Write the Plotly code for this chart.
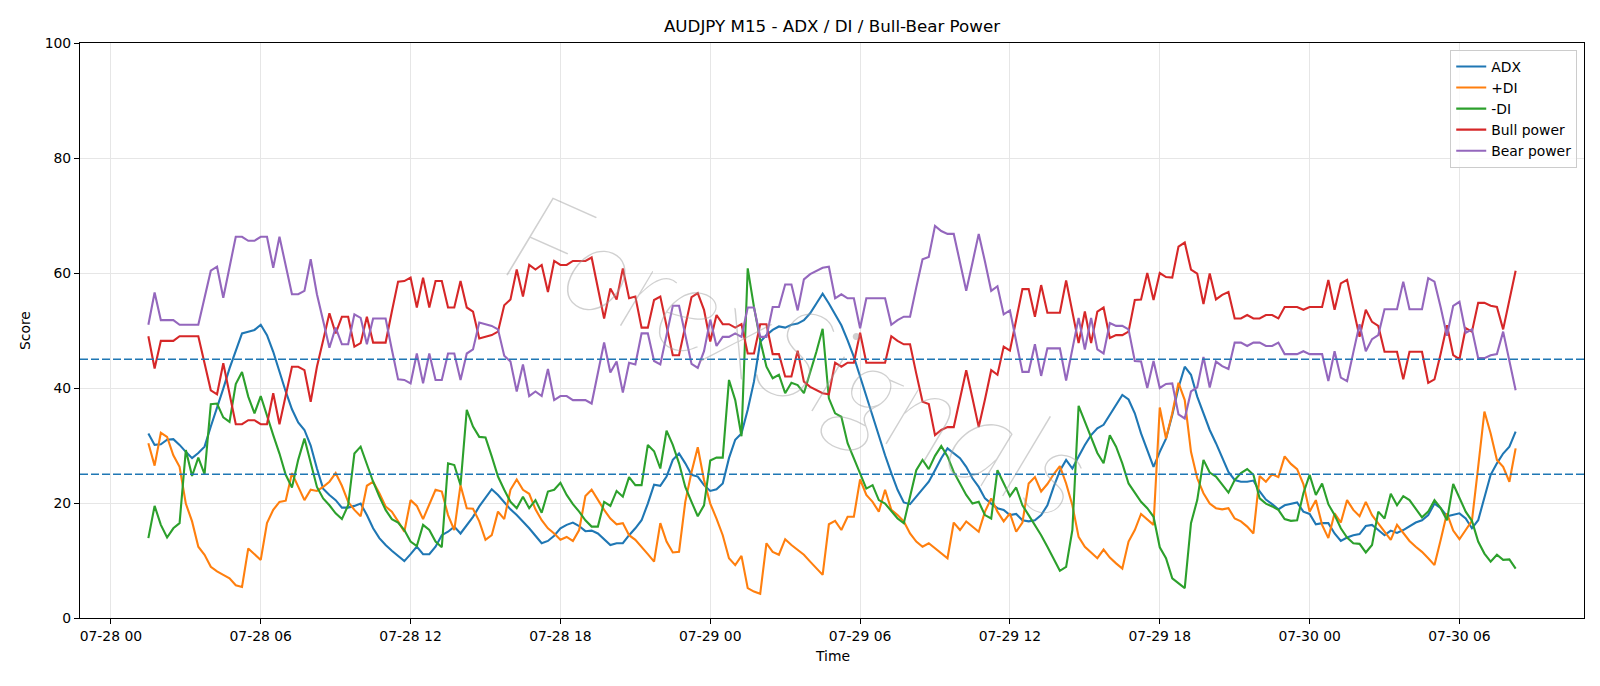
import pandas as pd
import plotly.graph_objects as go

# ---------------- data ----------------
start_time = "2025-07-28 01:30"
bar_minutes = 15

adx = [32.1, 30.1, 30.2, 31.0, 31.1, 30.1, 28.9, 27.8, 28.7, 29.8,
       33.3, 36.5, 39.9, 43.4, 46.6, 49.5, 49.8, 50.1, 51.0, 49.2,
       46.3, 42.8, 39.4, 36.3, 34.0, 32.7, 30.0, 26.0, 22.5, 21.4,
       20.5, 19.2, 19.2, 19.5, 19.9, 17.9, 15.6, 13.9, 12.7, 11.7,
       10.8, 9.9, 11.1, 12.4, 11.1, 11.1, 12.4, 14.4, 15.0, 15.9,
       14.7, 16.2, 17.6, 19.4, 20.8, 22.4, 21.4, 20.2, 18.9, 17.9,
       16.8, 15.6, 14.3, 13.0, 13.4, 14.3, 15.6, 16.2, 16.6, 16.0,
       15.1, 15.2, 14.7, 13.7, 12.7, 13.0, 13.0, 14.4, 15.6, 17.0,
       19.9, 23.2, 23.0, 24.6, 27.5, 28.6, 26.9, 24.9, 24.6, 23.1,
       22.1, 22.4, 23.4, 27.8, 31.0, 32.1, 36.2, 41.1, 48.0, 49.2,
       50.1, 50.7, 50.5, 51.0, 51.2, 51.8, 53.0, 54.7, 56.4, 54.7,
       52.7, 50.9, 48.3, 45.4, 42.0, 38.5, 35.0, 31.5, 28.3, 25.2,
       22.3, 20.1, 19.8, 21.1, 22.5, 23.7, 25.7, 27.8, 29.5, 28.6,
       27.8, 26.3, 24.3, 22.8, 20.8, 19.9, 19.1, 18.8, 17.9, 18.1,
       17.0, 16.8, 17.0, 17.9, 19.6, 22.8, 25.6, 27.5, 26.0, 28.1,
       30.1, 31.8, 33.0, 33.6, 35.3, 37.2, 38.8, 38.0, 35.6, 32.1,
       29.2, 26.3, 28.9, 31.2, 35.3, 40.1, 43.7, 42.3, 38.5, 35.6,
       32.7, 30.4, 27.8, 25.4, 24.0, 23.7, 23.7, 23.9, 22.0, 20.6,
       19.8, 18.9, 19.6, 19.9, 20.1, 18.5, 18.1, 16.3, 16.5, 16.5,
       14.7, 13.4, 14.0, 14.4, 14.6, 16.0, 16.2, 15.3, 14.4, 15.2,
       14.8, 15.3, 16.0, 16.6, 17.0, 17.9, 19.9, 19.1, 17.7, 17.9,
       18.2, 17.3, 15.6, 17.0, 21.1, 24.9, 26.9, 28.6, 29.8, 32.4]

plus_di = [30.4, 26.5, 32.2, 31.5, 28.3, 26.3, 19.9, 16.8, 12.4, 11.0,
           8.9, 8.1, 7.5, 6.9, 5.7, 5.4, 12.1, 11.1, 10.1, 16.5,
           18.8, 20.2, 20.4, 25.2, 22.8, 20.5, 22.3, 22.1, 22.8, 23.7,
           25.2, 23.0, 20.2, 18.8, 17.7, 23.0, 23.7, 21.7, 19.4, 18.5,
           16.8, 15.0, 20.5, 19.5, 17.2, 19.6, 22.3, 22.0, 17.9, 15.3,
           23.1, 19.1, 19.0, 16.8, 13.6, 14.4, 18.5, 17.2, 22.3, 24.1,
           22.3, 21.6, 18.9, 17.0, 15.6, 14.7, 13.6, 14.1, 13.4, 15.3,
           21.2, 22.3, 20.5, 18.8, 17.3, 16.3, 16.5, 14.4, 13.6, 12.4,
           11.1, 9.8, 16.5, 13.3, 11.4, 11.5, 20.2, 25.4, 29.7, 24.0,
           19.9, 17.3, 14.4, 10.4, 9.2, 10.8, 5.2, 4.6, 4.2, 13.0,
           11.5, 11.0, 13.7, 12.7, 11.8, 11.0, 9.8, 8.6, 7.5, 16.3,
           16.9, 15.3, 17.6, 17.6, 24.1, 21.4, 20.2, 18.5, 22.3, 18.8,
           17.9, 16.8, 14.7, 13.3, 12.4, 13.0, 12.1, 11.2, 10.4, 16.6,
           15.3, 16.8, 15.9, 15.0, 18.5, 20.8, 18.5, 16.8, 18.2, 15.0,
           16.6, 23.4, 24.5, 22.0, 23.3, 25.0, 26.4, 23.4, 19.6, 14.1,
           12.4, 11.4, 10.4, 11.9, 10.5, 9.5, 8.6, 13.3, 15.3, 18.1,
           17.2, 16.2, 36.6, 31.2, 35.6, 40.9, 37.9, 28.9, 24.3, 21.7,
           19.9, 19.1, 18.9, 19.1, 17.3, 16.8, 15.9, 14.7, 24.7, 23.7,
           25.0, 24.5, 28.1, 26.8, 25.9, 23.3, 18.5, 20.5, 16.2, 13.9,
           18.2, 16.6, 20.5, 18.8, 17.7, 20.2, 17.9, 16.5, 15.0, 13.6,
           16.2, 14.7, 13.4, 12.4, 11.5, 10.4, 9.2, 13.6, 18.2, 15.2,
           13.7, 15.3, 16.9, 26.3, 35.9, 32.1, 27.5, 26.3, 23.7, 29.5]

minus_di = [13.9, 19.5, 16.2, 14.0, 15.6, 16.5, 29.2, 24.7, 27.9, 25.0,
            37.2, 37.3, 34.9, 34.1, 40.7, 42.8, 38.5, 35.6, 38.6, 35.0,
            31.8, 28.6, 24.9, 22.7, 27.5, 31.2, 26.8, 22.8, 20.8, 19.6,
            18.2, 17.2, 19.6, 28.6, 29.8, 26.6, 23.7, 21.1, 18.8, 17.2,
            16.6, 15.3, 13.3, 12.5, 16.2, 15.3, 13.3, 12.3, 26.9, 26.6,
            23.1, 36.2, 33.3, 31.5, 31.4, 28.1, 24.6, 22.3, 20.2, 19.1,
            21.1, 19.1, 20.5, 18.3, 22.0, 22.3, 23.5, 21.4, 19.8, 18.5,
            17.0, 15.9, 15.9, 20.2, 19.5, 22.1, 21.1, 24.5, 23.1, 23.1,
            30.1, 29.0, 26.0, 32.6, 30.1, 26.9, 22.8, 20.2, 17.7, 19.6,
            27.4, 27.9, 27.9, 41.4, 37.9, 31.6, 60.8, 54.1, 48.3, 43.7,
            41.7, 42.3, 39.1, 40.9, 40.5, 39.1, 42.5, 46.3, 50.3, 38.2,
            35.6, 35.0, 30.4, 27.8, 25.2, 22.5, 23.1, 20.5, 19.9, 18.5,
            17.3, 16.5, 21.1, 25.7, 27.5, 25.9, 28.2, 29.9, 28.1, 25.4,
            23.4, 21.4, 19.9, 20.2, 17.9, 17.3, 25.7, 23.4, 21.2, 22.7,
            19.6, 17.9, 16.2, 14.4, 12.4, 10.4, 8.2, 8.9, 15.3, 36.9,
            34.1, 31.4, 28.7, 26.9, 31.8, 29.8, 26.9, 23.4, 21.7, 20.2,
            19.1, 17.6, 12.3, 10.4, 6.9, 6.0, 5.2, 16.5, 20.5, 27.5,
            25.3, 24.6, 23.1, 21.8, 24.0, 25.2, 25.9, 24.9, 20.8, 19.9,
            19.4, 18.8, 17.2, 16.9, 17.0, 21.7, 24.9, 21.4, 23.4, 19.8,
            17.9, 15.6, 14.0, 13.0, 12.9, 11.4, 12.7, 18.5, 17.3, 21.6,
            19.6, 21.2, 20.5, 19.1, 17.5, 18.5, 20.5, 19.1, 17.0, 23.3,
            20.8, 18.5, 16.9, 13.3, 11.2, 9.8, 11.0, 10.1, 10.2, 8.6]

bull_power = [49.0, 43.4, 48.2, 48.2, 48.2, 49.0, 49.0, 49.0, 49.0, 44.3,
              39.6, 38.9, 44.3, 39.0, 33.7, 33.7, 34.4, 34.4, 33.7, 33.7,
              39.1, 33.7, 39.0, 43.7, 43.7, 43.1, 37.6, 43.7, 48.3, 53.0,
              49.5, 52.4, 52.4, 47.2, 47.8, 52.4, 47.9, 47.9, 47.9, 53.3,
              58.5, 58.6, 59.2, 54.0, 59.2, 54.0, 58.6, 58.6, 54.0, 54.0,
              58.6, 54.0, 53.3, 48.6, 48.9, 49.2, 49.8, 54.4, 55.4, 60.6,
              55.9, 61.4, 60.6, 61.4, 56.7, 62.1, 61.4, 61.4, 62.1, 62.1,
              62.1, 62.7, 57.3, 52.1, 57.3, 55.4, 60.8, 55.6, 55.9, 50.5,
              50.5, 55.3, 55.9, 50.6, 45.7, 45.7, 50.6, 55.8, 56.5, 53.6,
              48.1, 52.7, 51.1, 51.1, 50.5, 51.1, 46.0, 46.0, 51.1, 51.1,
              45.9, 45.9, 42.0, 42.0, 46.5, 41.1, 40.2, 39.6, 39.1, 38.9,
              44.4, 43.7, 44.4, 44.4, 49.6, 44.4, 44.4, 44.4, 44.4, 49.0,
              48.2, 47.6, 47.6, 42.5, 37.6, 37.2, 31.8, 32.7, 33.2, 33.2,
              38.1, 43.1, 38.2, 33.2, 38.0, 43.1, 42.3, 47.2, 46.5, 51.8,
              57.2, 57.2, 52.4, 57.9, 53.1, 53.1, 53.1, 58.7, 53.2, 47.8,
              53.3, 47.8, 53.3, 54.0, 48.7, 49.2, 49.2, 49.8, 55.3, 55.4,
              60.0, 55.3, 60.0, 59.3, 59.2, 64.6, 65.3, 60.6, 59.9, 54.6,
              59.9, 55.4, 56.2, 56.7, 52.1, 52.1, 52.7, 52.1, 52.1, 52.7,
              52.7, 52.1, 54.1, 54.1, 54.1, 53.6, 54.1, 54.1, 54.1, 58.8,
              53.6, 58.2, 58.8, 53.8, 48.9, 53.6, 51.5, 50.8, 46.3, 46.3,
              46.3, 41.5, 46.3, 46.3, 46.3, 40.9, 41.5, 46.0, 50.9, 45.7,
              45.0, 50.4, 49.8, 54.8, 54.8, 54.3, 54.1, 50.2, 55.3, 60.4]

bear_power = [51.0, 56.6, 51.8, 51.8, 51.8, 51.0, 51.0, 51.0, 51.0, 55.7,
              60.4, 61.1, 55.7, 61.0, 66.3, 66.3, 65.6, 65.6, 66.3, 66.3,
              60.9, 66.3, 61.0, 56.3, 56.3, 56.9, 62.4, 56.3, 51.7, 47.0,
              50.5, 47.6, 47.6, 52.8, 52.2, 47.6, 52.1, 52.1, 52.1, 46.7,
              41.5, 41.4, 40.8, 46.0, 40.8, 46.0, 41.4, 41.4, 46.0, 46.0,
              41.4, 46.0, 46.7, 51.4, 51.1, 50.8, 50.2, 45.6, 44.6, 39.4,
              44.1, 38.6, 39.4, 38.6, 43.3, 37.9, 38.6, 38.6, 37.9, 37.9,
              37.9, 37.3, 42.7, 47.9, 42.7, 44.6, 39.2, 44.4, 44.1, 49.5,
              49.5, 44.7, 44.1, 49.4, 54.3, 54.3, 49.4, 44.2, 43.5, 46.4,
              51.9, 47.3, 48.9, 48.9, 49.5, 48.9, 54.0, 54.0, 48.9, 48.9,
              54.1, 54.1, 58.0, 58.0, 53.5, 58.9, 59.8, 60.4, 60.9, 61.1,
              55.6, 56.3, 55.6, 55.6, 50.4, 55.6, 55.6, 55.6, 55.6, 51.0,
              51.8, 52.4, 52.4, 57.5, 62.4, 62.8, 68.2, 67.3, 66.8, 66.8,
              61.9, 56.9, 61.8, 66.8, 62.0, 56.9, 57.7, 52.8, 53.5, 48.2,
              42.8, 42.8, 47.6, 42.1, 46.9, 46.9, 46.9, 41.3, 46.8, 52.2,
              46.7, 52.2, 46.7, 46.0, 51.3, 50.8, 50.8, 50.2, 44.7, 44.6,
              40.0, 44.7, 40.0, 40.7, 40.8, 35.4, 34.7, 39.4, 40.1, 45.4,
              40.1, 44.6, 43.8, 43.3, 47.9, 47.9, 47.3, 47.9, 47.9, 47.3,
              47.3, 47.9, 45.9, 45.9, 45.9, 46.4, 45.9, 45.9, 45.9, 41.2,
              46.4, 41.8, 41.2, 46.2, 51.1, 46.4, 48.5, 49.2, 53.7, 53.7,
              53.7, 58.5, 53.7, 53.7, 53.7, 59.1, 58.5, 54.0, 49.1, 54.3,
              55.0, 49.6, 50.2, 45.2, 45.2, 45.7, 45.9, 49.8, 44.7, 39.6]

threshold_levels = [45, 25]
y_ticks = [0, 20, 40, 60, 80, 100]

times = pd.date_range(start_time, periods=len(adx), freq=f"{bar_minutes}min")

# ---------------- figure ----------------
FONT = "DejaVu Sans"
series = [
    ("ADX", adx, "#1f77b4"),
    ("+DI", plus_di, "#ff7f0e"),
    ("-DI", minus_di, "#2ca02c"),
    ("Bull power", bull_power, "#d62728"),
    ("Bear power", bear_power, "#9467bd"),
]

fig = go.Figure()
for name, vals, col in series:
    fig.add_trace(go.Scatter(x=times, y=vals, mode="lines", name=name,
                             line=dict(color=col, width=2.1)))

for lvl in threshold_levels:
    fig.add_shape(type="line", xref="paper", x0=0, x1=1, yref="y", y0=lvl, y1=lvl,
                  line=dict(color="#1f77b4", width=1.6, dash="8px,3px"), layer="above")

span = times[-1] - times[0]
pad = span * 0.05
x_range = [times[0] - pad, times[-1] + pad]

axis_common = dict(showline=True, mirror=True, linecolor="black", linewidth=1.1,
                   ticks="outside", ticklen=5, tickwidth=1.1, tickcolor="black",
                   showgrid=True, gridcolor="#e6e6e6", gridwidth=1, zeroline=False,
                   tickfont=dict(family=FONT, size=13.9, color="black"))

fig.update_xaxes(range=x_range, tickformat="%m-%d %H", dtick=6 * 3600 * 1000,
                 tick0="2025-07-28 00:00", **axis_common)
fig.update_yaxes(range=[0, 100], tickvals=y_ticks, **axis_common)

fig.update_layout(
    width=1600, height=686,
    margin=dict(l=80, r=16, t=43, b=68),
    paper_bgcolor="white", plot_bgcolor="white",
    font=dict(family=FONT, size=13.9, color="black"),
    title=dict(text="AUDJPY M15 - ADX / DI / Bull-Bear Power", x=0.5, xref="paper",
               xanchor="center", y=1 - 26 / 686, yref="container", yanchor="middle",
               font=dict(family=FONT, size=16.7, color="black")),
    legend=dict(x=0.9955, xanchor="right", y=0.988, yanchor="top",
                bgcolor="rgba(255,255,255,0.8)", bordercolor="#cccccc", borderwidth=1,
                font=dict(family=FONT, size=13.9, color="black"), itemwidth=30),
    showlegend=True,
)

fig.add_annotation(text="Time", xref="paper", yref="paper", x=0.5, y=0, yshift=-38,
                   showarrow=False, xanchor="center", yanchor="middle",
                   font=dict(family=FONT, size=13.9, color="black"))
fig.add_annotation(text="Score", xref="paper", yref="paper", x=0, y=0.5, xshift=-55.5,
                   showarrow=False, xanchor="center", yanchor="middle", textangle=-90,
                   font=dict(family=FONT, size=13.9, color="black"))

# watermark (thin, semi-transparent, drawn over the lines)
fig.add_annotation(text="ForexSignals", xref="paper", yref="paper",
                   x=(800 - 80) / 1504, y=(618 - 352) / 575, showarrow=False,
                   xanchor="center", yanchor="middle", textangle=24,
                   font=dict(family="Lato", size=128, weight=100, style="italic",
                             color="rgba(150,150,150,0.45)",
                             shadow="0px 0px 4px rgba(255,255,255,0.8)"))

fig.write_html("out.html")
